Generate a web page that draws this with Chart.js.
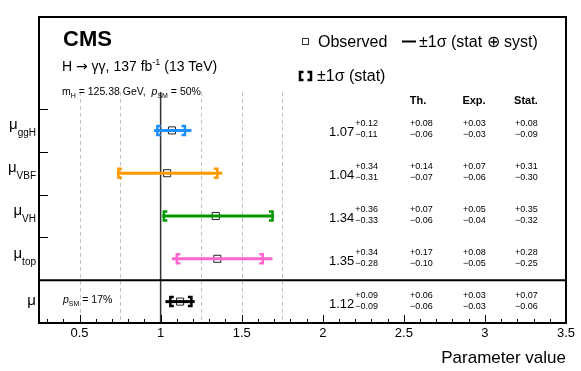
<!DOCTYPE html>
<html>
<head>
<meta charset="utf-8">
<script src="https://cdn.jsdelivr.net/npm/chart.js@4.4.1/dist/chart.umd.min.js"></script>
<style>
  html, body { margin: 0; padding: 0; background: #fff; }
</style>
</head>
<body>
<canvas id="grafico" width="581" height="371"></canvas>
<script>
// dados
const categorias = ['ggH', 'VBF', 'VH', 'top', ''];
const centrais = [1.07, 1.04, 1.34, 1.35, 1.12];
const totalMais = [0.12, 0.34, 0.36, 0.34, 0.09];
const totalMenos = [0.11, 0.31, 0.33, 0.28, 0.09];
const statMais = [0.08, 0.31, 0.35, 0.28, 0.07];
const statMenos = [0.09, 0.30, 0.32, 0.25, 0.06];
const teoMais = [0.08, 0.14, 0.07, 0.17, 0.06];
const teoMenos = [0.06, 0.07, 0.06, 0.10, 0.06];
const expMais = [0.03, 0.07, 0.05, 0.08, 0.03];
const expMenos = [0.03, 0.06, 0.04, 0.05, 0.03];
const rotulosX = [0.5, 1, 1.5, 2, 2.5, 3, 3.5];
const linhasGrade = [0.5, 0.75, 1.25, 1.5, 1.75];
const ticksY = [2, 3, 4, 5];

const cores = ['#1e90ff', '#ff9900', '#009900', '#ff66cc', '#000000'];
const FONTE = '"Liberation Sans", Arial, sans-serif';
const topoGrade = 5.4;

const graficoContainer = document.getElementById('grafico').getContext('2d');

function PosY(i) {
    return categorias.length - i - 0.5;
}

function Sinal(v, s) {
    return (s > 0 ? '+' : '\u2212') + v.toFixed(2);
}

function EscreverPartes(ctx, partes, x, y, alinhamento) {
    const fontes = partes.map(p => `${p.estilo || ''} ${p.tam}px ${p.familia || FONTE}`);
    let largura = 0;
    partes.forEach((p, i) => { ctx.font = fontes[i]; largura += ctx.measureText(p.t).width; });
    let cx = alinhamento === 'right' ? x - largura : x;
    ctx.textAlign = 'left';
    partes.forEach((p, i) => {
        ctx.font = fontes[i];
        ctx.fillText(p.t, cx, y + (p.dy || 0));
        cx += ctx.measureText(p.t).width;
    });
    return cx;
}

function Linha(ctx, x1, y1, x2, y2) {
    ctx.beginPath();
    ctx.moveTo(x1, y1);
    ctx.lineTo(x2, y2);
    ctx.stroke();
}

function Colchete(ctx, x, y, lado, altura, aba) {
    ctx.beginPath();
    ctx.moveTo(x + lado * aba, y - altura / 2);
    ctx.lineTo(x, y - altura / 2);
    ctx.lineTo(x, y + altura / 2);
    ctx.lineTo(x + lado * aba, y + altura / 2);
    ctx.stroke();
}

function DesenharColchetes(chart) {
    const { ctx, scales: { x, y } } = chart;
    ctx.save();
    ctx.lineWidth = 2.5;
    ctx.lineJoin = 'miter';
    categorias.forEach((c, i) => {
        const py = y.getPixelForValue(PosY(i));
        ctx.strokeStyle = cores[i];
        Colchete(ctx, x.getPixelForValue(centrais[i] - statMenos[i]), py, 1, 9, 3.5);
        Colchete(ctx, x.getPixelForValue(centrais[i] + statMais[i]), py, -1, 9, 3.5);
    });
    ctx.restore();
}

const datasetsTotais = categorias.map((c, i) => ({
    type: 'line',
    data: [
        { x: centrais[i] - totalMenos[i], y: PosY(i) },
        { x: centrais[i] + totalMais[i], y: PosY(i) }
    ],
    borderColor: cores[i],
    borderWidth: 3,
    pointRadius: 0,
    fill: false
}));

const datasetObservado = {
    type: 'scatter',
    data: centrais.map((v, i) => ({ x: v, y: PosY(i) })),
    pointStyle: 'rect',
    pointRadius: 5,
    backgroundColor: '#ffffff',
    borderColor: '#222222',
    borderWidth: 1
};
const indiceObservado = datasetsTotais.length;

const pluginCms = {
    id: 'cms',
    beforeDatasetsDraw(chart) {
        const { ctx, chartArea: a, scales: { x, y } } = chart;
        ctx.save();
        ctx.strokeStyle = '#c4c4c4';
        ctx.lineWidth = 1;
        ctx.setLineDash([4, 3]);
        linhasGrade.forEach(v => {
            const px = Math.round(x.getPixelForValue(v)) + 0.5;
            Linha(ctx, px, y.getPixelForValue(topoGrade), px, a.bottom);
        });
        ctx.setLineDash([]);
        ctx.strokeStyle = '#333';
        ctx.lineWidth = 1.5;
        const p1 = x.getPixelForValue(1);
        Linha(ctx, p1, y.getPixelForValue(topoGrade), p1, a.bottom);
        ctx.strokeStyle = '#000';
        ctx.lineWidth = 2;
        const ps = y.getPixelForValue(1);
        Linha(ctx, a.left, ps, a.right, ps);
        ctx.restore();
    },
    beforeDatasetDraw(chart, args) {
        if (args.index === indiceObservado) DesenharColchetes(chart);
    },
    afterDraw(chart) {
        const { ctx, chartArea: a, scales: { x, y } } = chart;
        ctx.save();
        // moldura
        ctx.strokeStyle = '#000';
        ctx.lineWidth = 2;
        ctx.strokeRect(a.left, a.top, a.right - a.left, a.bottom - a.top);
        // ticks do eixo x
        ctx.lineWidth = 1;
        for (let k = 3; k <= 35; k++) {
            const px = Math.round(x.getPixelForValue(k / 10)) + 0.5;
            Linha(ctx, px, a.bottom, px, a.bottom - (k % 5 === 0 ? 8 : 4));
        }
        // ticks do eixo y
        ticksY.forEach(v => {
            const py = Math.round(y.getPixelForValue(v)) + 0.5;
            Linha(ctx, a.left, py, a.left + 9, py);
        });

        ctx.fillStyle = '#000';
        ctx.textBaseline = 'alphabetic';

        // rótulos das categorias
        categorias.forEach((c, i) => {
            const py = y.getPixelForValue(PosY(i));
            if (c) {
                EscreverPartes(ctx, [
                    { t: '\u03bc', tam: 15 },
                    { t: c, tam: 10, dy: 7 }
                ], 36, py - 1, 'right');
            } else {
                EscreverPartes(ctx, [{ t: '\u03bc', tam: 15 }], 36, py + 3, 'right');
            }

            // valores à direita
            const fim = EscreverPartes(ctx, [{ t: centrais[i].toFixed(2), tam: 13 }], 329, py + 6);
            EscreverPartes(ctx, [{ t: Sinal(totalMais[i], 1), tam: 9 }], fim + 1, py - 4);
            EscreverPartes(ctx, [{ t: Sinal(totalMenos[i], -1), tam: 9 }], fim + 1, py + 7);

            [[teoMais, teoMenos, 410], [expMais, expMenos, 463], [statMais, statMenos, 515]].forEach(([mais, menos, cx]) => {
                EscreverPartes(ctx, [{ t: Sinal(mais[i], 1), tam: 9 }], cx, py - 4);
                EscreverPartes(ctx, [{ t: Sinal(menos[i], -1), tam: 9 }], cx, py + 7);
            });
        });

        // cabeçalhos das colunas
        ctx.textAlign = 'center';
        ctx.font = `bold 11px ${FONTE}`;
        ctx.fillText('Th.', 418, 104);
        ctx.fillText('Exp.', 474, 104);
        ctx.fillText('Stat.', 526, 104);

        // textos CMS
        ctx.textAlign = 'left';
        ctx.font = `bold 22px ${FONTE}`;
        ctx.fillText('CMS', 63, 46);
        EscreverPartes(ctx, [
            { t: 'H ', tam: 14 },
            { t: '\u2192', tam: 14, familia: '"DejaVu Sans"' },
            { t: ' \u03b3\u03b3, 137 fb', tam: 14 },
            { t: '-1', tam: 9, dy: -6 },
            { t: ' (13 TeV)', tam: 14 }
        ], 62, 71);
        EscreverPartes(ctx, [
            { t: 'm', tam: 10.5 },
            { t: 'H', tam: 7, dy: 3 },
            { t: ' = 125.38 GeV,  ', tam: 10.5 },
            { t: 'p', tam: 10.5, estilo: 'italic' },
            { t: 'SM', tam: 7, dy: 3 },
            { t: ' = 50%', tam: 10.5 }
        ], 62, 95);
        const pyMu = y.getPixelForValue(PosY(categorias.length - 1));
        EscreverPartes(ctx, [
            { t: 'p', tam: 10.5, estilo: 'italic' },
            { t: 'SM', tam: 7, dy: 3 },
            { t: ' = 17%', tam: 10.5 }
        ], 63, pyMu + 1);

        // legenda
        ctx.strokeStyle = '#333';
        ctx.lineWidth = 1;
        ctx.strokeRect(302.5, 38.5, 6, 6);
        ctx.font = `16px ${FONTE}`;
        ctx.fillText('Observed', 318, 47);
        ctx.strokeStyle = '#000';
        ctx.lineWidth = 2;
        Linha(ctx, 402, 41.5, 416, 41.5);
        ctx.fillText('\u00b11\u03c3 (stat \u2295 syst)', 419, 47);
        ctx.lineWidth = 2.5;
        Colchete(ctx, 300, 76, 1, 8, 3.5);
        Colchete(ctx, 311, 76, -1, 8, 3.5);
        ctx.fillText('\u00b11\u03c3 (stat)', 317, 81);
        ctx.restore();
    }
};

const config = {
    data: {
        datasets: [...datasetsTotais, datasetObservado]
    },
    options: {
        responsive: false,
        animation: false,
        devicePixelRatio: 1,
        layout: { padding: { left: 39, right: 15, top: 17, bottom: 2 } },
        plugins: {
            legend: { display: false },
            tooltip: { enabled: false }
        },
        scales: {
            x: {
                type: 'linear',
                min: 0.25,
                max: 3.5,
                grid: { display: false, drawTicks: false },
                border: { display: false },
                afterBuildTicks: escala => { escala.ticks = rotulosX.map(v => ({ value: v })); },
                ticks: {
                    autoSkip: false,
                    maxRotation: 0,
                    padding: 3,
                    color: '#000',
                    font: { family: FONTE, size: 13 },
                    callback: v => String(v)
                },
                title: {
                    display: true,
                    text: 'Parameter value',
                    align: 'end',
                    color: '#000',
                    font: { family: FONTE, size: 17 },
                    padding: { top: 4, bottom: 0 }
                }
            },
            y: {
                type: 'linear',
                min: 0,
                max: 7.15,
                display: false
            }
        }
    },
    plugins: [pluginCms]
};

const instanciaChart = new Chart(graficoContainer, config);
</script>
</body>
</html>
